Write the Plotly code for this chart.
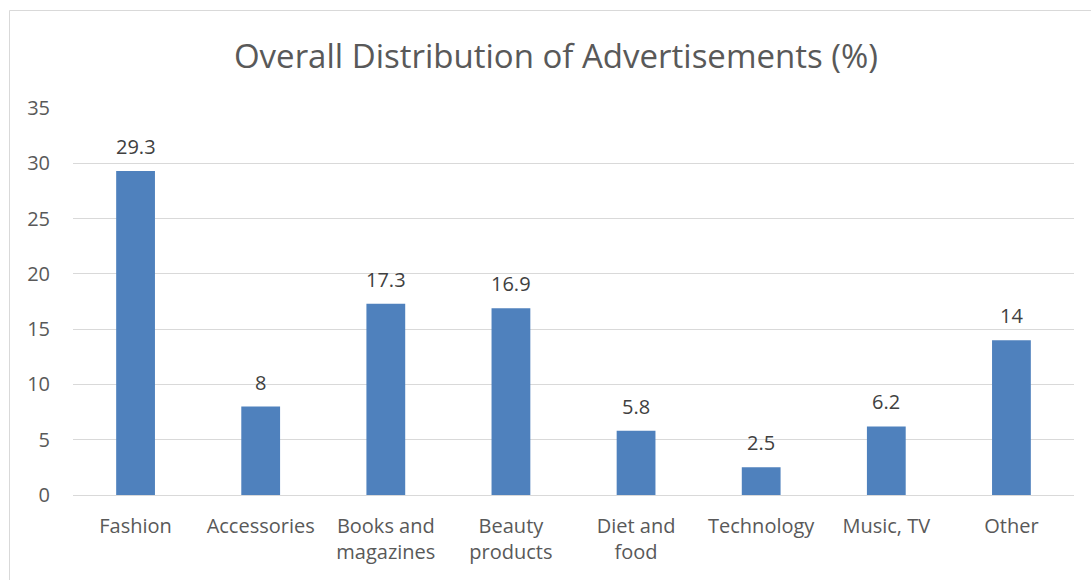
import plotly.graph_objects as go

categories = ["Fashion", "Accessories", "Books and<br>magazines", "Beauty<br>products",
              "Diet and<br>food", "Technology", "Music, TV", "Other"]
shares = [29.3, 8, 17.3, 16.9, 5.8, 2.5, 6.2, 14]
y_ticks = [0, 5, 10, 15, 20, 25, 30, 35]

FONT = "'Open Sans', Lato, sans-serif"
TEXT = "#595959"

fig = go.Figure(go.Bar(
    x=categories, y=shares,
    marker=dict(color="#4F81BD", line=dict(width=0)),
    width=0.31,
    hoverinfo="x+y",
))

# value labels above each bar
for c, v in zip(categories, shares):
    fig.add_annotation(x=c, y=v, text=f"{v:g}", showarrow=False,
                       yanchor="bottom", yshift=9,
                       font=dict(family=FONT, size=20, color="#404040"))

# outer chart frame
fig.add_shape(type="rect", xref="paper", yref="paper",
              x0=(9.5 - 73) / 1001, x1=1.1, y0=-0.5, y1=1 + (108 - 10.5) / 387,
              line=dict(color="#D9D9D9", width=1), layer="below")

fig.update_layout(
    width=1091, height=580,
    margin=dict(l=73, r=17, t=108, b=85),
    paper_bgcolor="white", plot_bgcolor="white",
    title=dict(text="Overall Distribution of Advertisements (%)",
               x=(556 - 73) / 1001, xref="paper", xanchor="center",
               y=1 - 56 / 580, yanchor="middle",
               font=dict(family=FONT, size=33, color=TEXT)),
    font=dict(family=FONT, size=20, color=TEXT),
    showlegend=False,
    xaxis=dict(showgrid=False, showline=False, ticks="", tickangle=0,
               ticklabelstandoff=17,
               tickfont=dict(family=FONT, size=20, color=TEXT)),
    yaxis=dict(range=[0, 35], tickvals=y_ticks, showgrid=True,
               gridcolor="#D9D9D9", gridwidth=1, zeroline=True,
               zerolinecolor="#D9D9D9", zerolinewidth=1, showline=False,
               ticks="", ticklabelstandoff=22,
               tickfont=dict(family=FONT, size=20, color=TEXT)),
)

fig.write_html("out.html")
